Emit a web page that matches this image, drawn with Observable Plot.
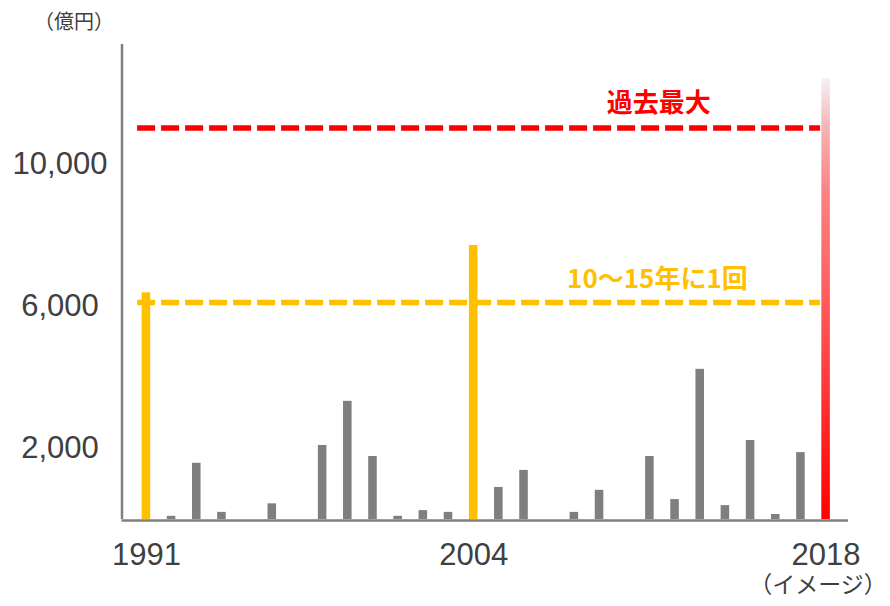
<!DOCTYPE html>
<html><head><meta charset="utf-8">
<script src="https://cdn.jsdelivr.net/npm/d3@7"></script>
<script src="https://cdn.jsdelivr.net/npm/@observablehq/plot@0.6"></script>
<style>body{margin:0;background:#fff}</style>
</head><body><div id="chart"></div>
<script>
// ---- data ----
const years = [1991,1992,1993,1994,1995,1996,1997,1998,1999,2000,2001,2002,2003,2004,
               2005,2006,2007,2008,2009,2010,2011,2012,2013,2014,2015,2016,2017,2018];
const values = [6370,90,1580,200,0,440,0,2080,3320,1770,90,250,200,7700,
                900,1380,0,200,820,0,1770,560,4220,390,2220,140,1880,12390];
const onceYears = [1991, 2004];      // 10〜15年に1回 の規模
const imageYears = [2018];           // イメージ
const refValues = [11000, 6100];     // 過去最大, 10〜15年に1回
const refLabels = ["過去最大", "10〜15年に1回"];
const refLabelYears = [2011.35, 2011.3];
const refSpan = [1990.65, 2017.78];
const yTicks = [2000, 6000, 10000];
const xTicks = [1991, 2004, 2018];
const unitLabel = "（億円）";
const imageNote = "（イメージ）";
const xDomain = [1990.03, 2018.89];
const yDomain = [0, 13348];

const table = years.map((year, i) => ({
  year, value: values[i],
  kind: imageYears.includes(year) ? "image" : onceYears.includes(year) ? "once" : "normal"
}));

const HW = 0.17;
const GRAY = "#7f7f7f", YEL = "#ffc000", RED = "#ff0000", TXT = "#404040";
const numFont = "'Liberation Sans', Arial, 'Noto Sans CJK JP', sans-serif";
const jpFont = "'Noto Sans CJK JP', 'Liberation Sans', sans-serif";

const barOpts = {x1: d => d.year - HW, x2: d => d.year + HW, y1: 0, y2: "value"};

const svg = Plot.plot({
  width: 890, height: 606,
  marginTop: 44, marginBottom: 87, marginLeft: 121.5, marginRight: 42,
  x: {domain: xDomain},
  y: {domain: yDomain},
  style: {fontFamily: numFont, background: "#fff", overflow: "visible"},
  marks: [
    Plot.rectY(table.filter(d => d.kind === "normal"), {...barOpts, fill: GRAY}),
    Plot.rectY(table.filter(d => d.kind === "once"), {...barOpts, fill: YEL}),
    Plot.rectY(table.filter(d => d.kind === "image"), {...barOpts, fill: "url(#g2018)"}),
    Plot.ruleY([refValues[0]], {y: d => d, x1: () => refSpan[0], x2: () => refSpan[1],
      stroke: RED, strokeWidth: 5.5, strokeDasharray: "18,6"}),
    Plot.ruleY([refValues[1]], {y: d => d, x1: () => refSpan[0], x2: () => refSpan[1],
      stroke: YEL, strokeWidth: 5.5, strokeDasharray: "18,6"}),
    Plot.text([refLabels[0]], {x: () => refLabelYears[0], y: () => refValues[0], text: d => d,
      dy: -24, fill: RED, fontSize: 26, fontWeight: "bold", fontFamily: jpFont}),
    Plot.text([refLabels[1]], {x: () => refLabelYears[1], y: () => refValues[1], text: d => d,
      dy: -23, fill: YEL, fontSize: 26, fontWeight: "bold", fontFamily: jpFont}),
    Plot.ruleY([0], {stroke: GRAY, strokeWidth: 2.5, dy: 1}),
    Plot.ruleX([xDomain[0]], {x: d => d, y1: 0, y2: yDomain[1], stroke: GRAY, strokeWidth: 2.5}),
    Plot.axisY({ticks: yTicks, tickSize: 0, tickPadding: 62, textAnchor: "middle",
      tickFormat: d3.format(","), fontSize: 31, fill: TXT, label: null}),
    Plot.axisX({ticks: xTicks, tickSize: 0, tickPadding: 23, tickFormat: d => String(d),
      fontSize: 31, fill: TXT, label: null}),
    Plot.text([imageNote], {x: () => imageYears[0], frameAnchor: "bottom", text: d => d,
      dy: 73, dx: -8, fill: TXT, fontSize: 23, fontFamily: jpFont}),
    Plot.text([unitLabel], {frameAnchor: "top-left", text: d => d, dx: -48, dy: -22,
      lineAnchor: "middle", textAnchor: "middle", fill: TXT, fontSize: 20, fontFamily: jpFont})
  ]
});

const defs = d3.select(svg).insert("defs", ":first-child");
const grad = defs.append("linearGradient").attr("id", "g2018")
  .attr("x1", 0).attr("y1", 0).attr("x2", 0).attr("y2", 1);
[[0, "#f3f3f6"], [0.11, "#f6b4b6"], [0.26, "#fb8282"], [0.5, "#ff5c5c"], [0.73, "#ff3333"], [1, "#ff0000"]]
  .forEach(([o, c]) => grad.append("stop").attr("offset", o).attr("stop-color", c));

document.getElementById("chart").appendChild(svg);
</script>
</body></html>
